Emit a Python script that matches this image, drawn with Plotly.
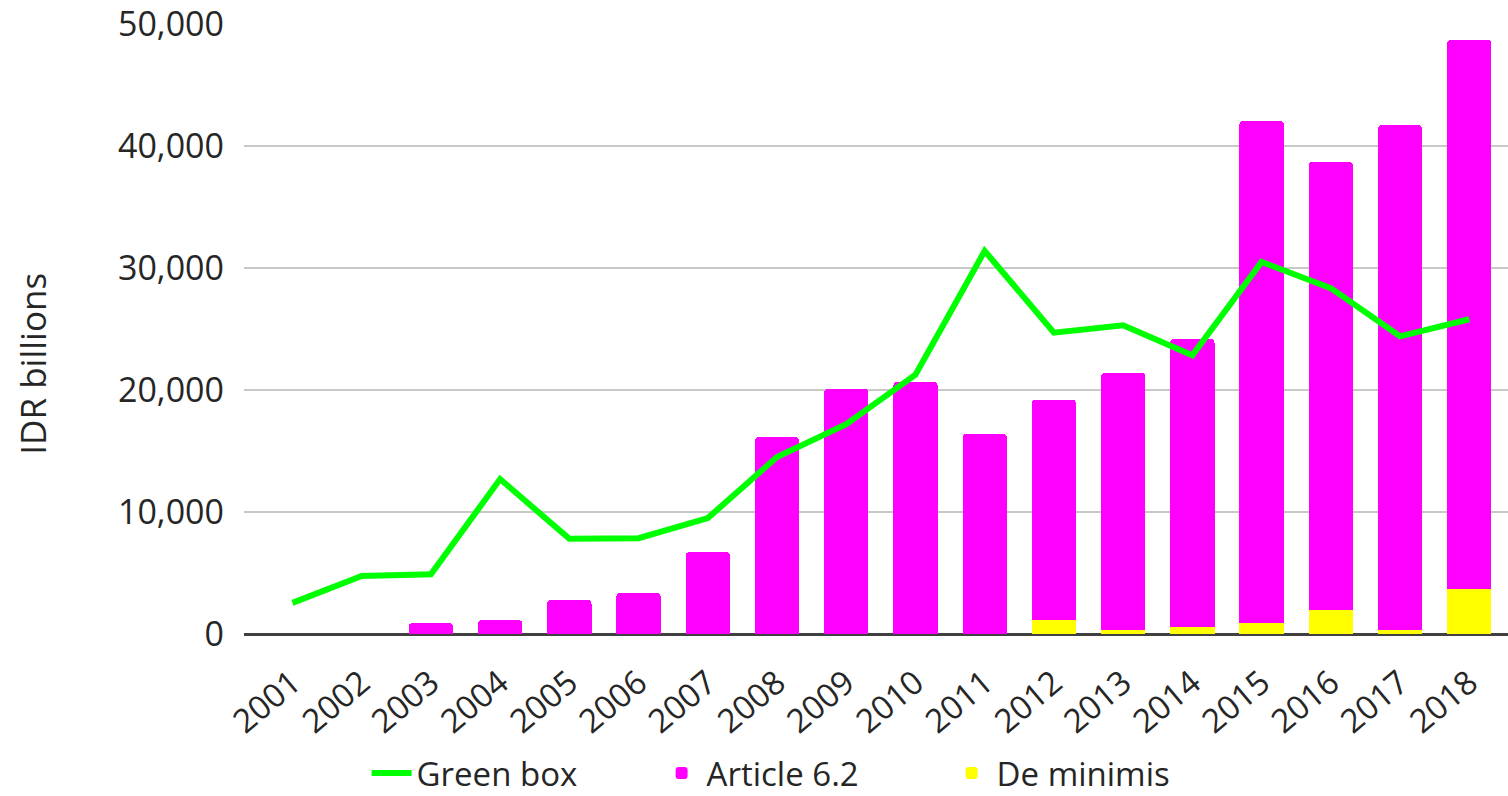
import plotly.graph_objects as go

years = [str(y) for y in range(2001, 2019)]
green_box = [2550, 4750, 4900, 12700, 7800, 7850, 9500, 14500, 17200, 21250,
             31400, 24700, 25300, 22850, 30500, 28350, 24400, 25800]
de_minimis = [0, 0, 0, 0, 0, 0, 0, 0, 0, 0, 0, 1150, 330, 600, 880, 1970, 330, 3660]
article_62_total = [0, 0, 900, 1150, 2800, 3350, 6700, 16150, 20100, 20650,
                    16400, 19200, 21400, 24200, 42050, 38700, 41700, 48700]
article_62 = [t - d for t, d in zip(article_62_total, de_minimis)]

font = "Open Sans, sans-serif"
txt = "#262626"

fig = go.Figure()
fig.add_trace(go.Bar(x=years, y=de_minimis, name="De minimis", legendrank=3,
                     marker=dict(color="#FFFF00", line=dict(width=0))))
fig.add_trace(go.Bar(x=years, y=article_62, name="Article 6.2", legendrank=2,
                     marker=dict(color="#FF00FF", line=dict(width=0))))
fig.add_trace(go.Scatter(x=years, y=green_box, name="Green box", mode="lines", legendrank=1,
                         line=dict(color="#00FF00", width=6)))

fig.update_layout(
    width=1508, height=796,
    margin=dict(l=244, r=0, t=24, b=162, autoexpand=False),
    barmode="stack", bargap=0.36, barcornerradius=4,
    plot_bgcolor="white", paper_bgcolor="white",
    font=dict(family=font, size=33, color=txt),
    showlegend=True,
    legend=dict(orientation="h", x=0.097, xanchor="left", y=-0.182, yanchor="top",
                traceorder="normal", font=dict(size=33, color=txt),
                itemwidth=40, entrywidth=235),
    xaxis=dict(type="category", range=[-0.70, 17.56], tickangle=-40,
               showgrid=False, ticks="", tickfont=dict(size=33, color=txt),
               ticklabelstandoff=22,
               categoryorder="array", categoryarray=years),
    yaxis=dict(range=[0, 50000], dtick=10000, tickformat=",",
               gridcolor="#C8C8C8", gridwidth=2, zeroline=True,
               zerolinecolor="#404040", zerolinewidth=3, ticks="",
               ticklabelstandoff=19, ticklabeloverflow="allow",
               tickfont=dict(size=34, color=txt)),
    annotations=[dict(text="IDR billions", textangle=-90, xref="paper", yref="paper",
                      x=-0.167, y=0.443, xanchor="center", yanchor="middle",
                      showarrow=False, font=dict(family=font, size=35, color=txt))],
)

fig.write_html("out.html", config={"displayModeBar": False},
               post_script="document.body.style.margin='0';")
